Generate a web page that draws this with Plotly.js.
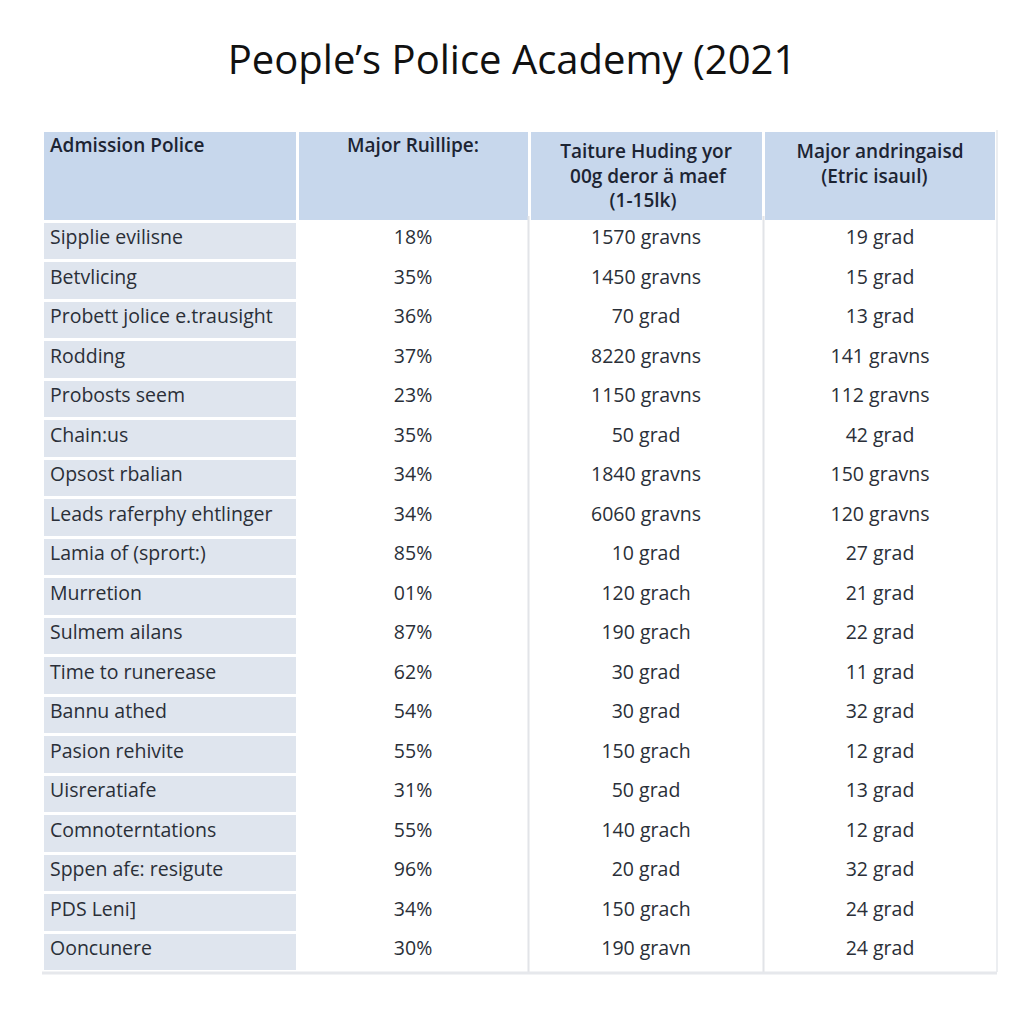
<!DOCTYPE html>
<html>
<head>
<meta charset="utf-8">
<script src="https://cdn.plot.ly/plotly-3.0.1.min.js"></script>
<style>html,body{margin:0;padding:0;background:#fff;}#chart{width:1024px;height:1024px;}</style>
</head>
<body>
<div id="chart"></div>
<script>
const NB = "\u00a0";
const headers = ["Admission Police", "Major Ruìllipe:", "Taiture Huding yor<br>" + NB.repeat(2) + "00g deror ä maef<br>" + NB.repeat(10) + "(1-15lk)", "Major andringaisd<br>" + NB.repeat(5) + "(Etric isauıl)"];
const categories = ["Sipplie evilisne","Betvlicing","Probett jolice e.trausight","Rodding","Probosts seem","Chain:us","Opsost rbalian","Leads raferphy ehtlinger","Lamia of (sprort:)","Murretion","Sulmem ailans","Time to runerease","Bannu athed","Pasion rehivite","Uisreratiafe","Comnoterntations","Sppen afє: resigute","PDS Leni]","Ooncunere"];
const percents = ["18%","35%","36%","37%","23%","35%","34%","34%","85%","01%","87%","62%","54%","55%","31%","55%","96%","34%","30%"];
const amounts = [1570,1450,70,8220,1150,50,1840,6060,10,120,190,30,30,150,50,140,20,150,190];
const amountUnits = ["gravns","gravns","grad","gravns","gravns","grad","gravns","gravns","grad","grach","grach","grad","grad","grach","grad","grach","grad","grach","gravn"];
const majors = [19,15,13,141,112,42,150,120,27,21,22,11,32,12,13,12,32,24,24];
const majorUnits = ["grad","grad","grad","gravns","gravns","grad","gravns","gravns","grad","grad","grad","grad","grad","grad","grad","grad","grad","grad","grad"];

const col3 = amounts.map((v,i)=>v+" "+amountUnits[i]);
const col4 = majors.map((v,i)=>v+" "+majorUnits[i]);
const n = categories.length;

const W = 1024, H = 1024;
const x0 = 42, x1 = 997, yTop = 130, yBot = 972;

const trace = {
  type: "table",
  domain: {x: [x0/W, x1/W], y: [1 - yBot/H, 1 - yTop/H]},
  columnwidth: [254, 231, 233, 233],
  header: {
    values: headers,
    align: ["left","center","center","center"],
    height: 86,
    fill: {color: "#c7d7ec"},
    line: {color: "#ffffff", width: 3},
    font: {family: "Open Sans, Liberation Sans, sans-serif", size: 19, color: "#1c2433", weight: 600}
  },
  cells: {
    values: [categories, percents, col3, col4],
    align: ["left","center","center","center"],
    height: 39.5,
    fill: {color: [Array(n).fill("#dfe5ee"), Array(n).fill("#ffffff"), Array(n).fill("#ffffff"), Array(n).fill("#ffffff")]},
    line: {color: "#ffffff", width: 3},
    font: {family: "Open Sans, Liberation Sans, sans-serif", size: 19.5, color: "#2a2f38"}
  }
};

const layout = {
  width: W, height: H,
  margin: {l: 0, r: 0, t: 0, b: 0},
  paper_bgcolor: "#ffffff",
  title: {
    text: "People’s Police Academy (2021",
    x: 0.5, xanchor: "center",
    y: 1 - 60/H, yanchor: "middle",
    font: {family: "Open Sans, Liberation Sans, sans-serif", size: 40, color: "#111111"}
  },
  shapes: [
    {type: "line", xref: "paper", yref: "paper", x0: 528.5/W, x1: 528.5/W, y0: 1 - 972/H, y1: 1 - 216/H, line: {color: "#e2e4e8", width: 2}},
    {type: "line", xref: "paper", yref: "paper", x0: 763.5/W, x1: 763.5/W, y0: 1 - 972/H, y1: 1 - 216/H, line: {color: "#e2e4e8", width: 2}},
    {type: "line", xref: "paper", yref: "paper", x0: 997/W, x1: 997/W, y0: 1 - 972/H, y1: 1 - 130/H, line: {color: "#eceef1", width: 2}},
    {type: "line", xref: "paper", yref: "paper", x0: 42/W, x1: 997/W, y0: 1 - 973/H, y1: 1 - 973/H, line: {color: "#e6e8ec", width: 3}}
  ]
};

Plotly.newPlot("chart", [trace], layout, {displayModeBar: false, staticPlot: true});
</script>
</body>
</html>
